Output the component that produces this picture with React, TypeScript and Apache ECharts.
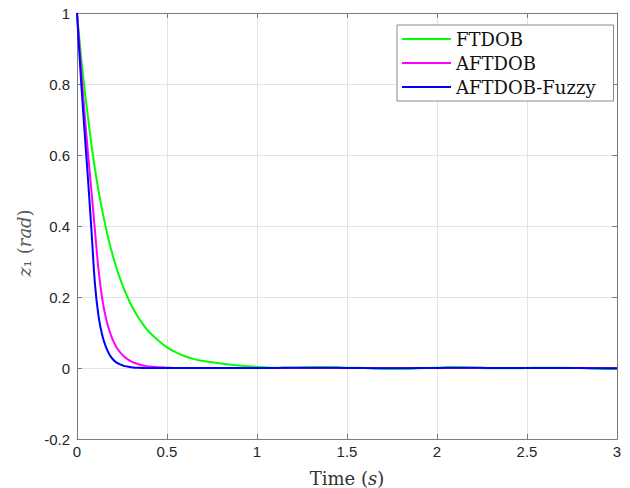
import React, { useEffect, useRef } from "react";
import * as echarts from "echarts";

const seriesNames = ["FTDOB", "AFTDOB", "AFTDOB-Fuzzy"];
const seriesColors = ["#00ff00", "#ff00ff", "#0000ff"];

const timeS = [
  0, 0.02, 0.04, 0.06, 0.08, 0.1, 0.12, 0.14, 0.16, 0.18, 0.2, 0.22, 0.24, 0.26,
  0.28, 0.3, 0.32, 0.34, 0.36, 0.38, 0.4, 0.45, 0.5, 0.55, 0.6, 0.65, 0.7, 0.8,
  0.9, 1.0, 1.1, 1.2, 1.3, 1.4, 1.5, 1.6, 1.7, 1.8, 1.9, 2.0, 2.1, 2.2, 2.3, 2.4,
  2.5, 2.6, 2.7, 2.8, 2.9, 3.0,
];

const ftdob = [
  1, 0.89, 0.795, 0.71, 0.63, 0.56, 0.498, 0.444, 0.396, 0.353, 0.315, 0.281,
  0.251, 0.224, 0.2, 0.179, 0.16, 0.143, 0.128, 0.114, 0.102, 0.078, 0.058,
  0.044, 0.033, 0.025, 0.02, 0.013, 0.007, 0.003, 0.001, 0.001, 0.002, 0.002,
  0.001, 0, -0.002, -0.002, -0.001, 0.001, 0.002, 0.001, -0.001, -0.001, 0,
  0.001, 0.001, 0, -0.002, -0.003,
];

const aftdob = [
  1, 0.86, 0.73, 0.61, 0.5, 0.385, 0.275, 0.195, 0.142, 0.105, 0.078, 0.058,
  0.044, 0.033, 0.025, 0.019, 0.014, 0.011, 0.008, 0.006, 0.004, 0.002, 0.001, 0,
  0, 0, 0, 0, 0, 0, 0, 0, 0, 0, 0, 0, 0, 0, 0, 0, 0, 0, 0, 0, 0, 0, 0, 0, 0,
  -0.001,
];

const aftdobFuzzy = [
  1, 0.83, 0.68, 0.54, 0.39, 0.235, 0.145, 0.093, 0.06, 0.038, 0.024, 0.015,
  0.01, 0.006, 0.004, 0.002, 0.001, 0.001, 0, 0, 0, 0, 0, 0, 0, 0, 0, 0, 0, 0,
  0, 0.001, 0.001, 0.001, 0, 0, -0.001, -0.001, 0, 0, 0.001, 0.001, 0, 0, 0, 0,
  0, 0, -0.001, -0.001,
];

const seriesValues = [ftdob, aftdob, aftdobFuzzy];

const axisColor = "#7a7a7a";
const gridColor = "#e4e4e4";
const labelColor = "#262626";

export default function App() {
  const ref = useRef<HTMLDivElement>(null);

  useEffect(() => {
    if (!ref.current) return;
    const chart = echarts.init(ref.current, undefined, { renderer: "svg" });

    const baseX = {
      type: "value" as const,
      min: 0,
      max: 3,
      interval: 0.5,
    };
    const baseY = {
      type: "value" as const,
      min: -0.2,
      max: 1,
      interval: 0.2,
    };

    chart.setOption({
      animation: false,
      backgroundColor: "#ffffff",
      grid: {
        left: 77,
        right: 13,
        top: 13,
        bottom: 49,
        containLabel: false,
        outerBoundsMode: "none",
      },
      legend: {
        data: seriesNames,
        orient: "vertical",
        left: 397,
        top: 25,
        icon: "rect",
        itemWidth: 49,
        itemHeight: 2,
        itemGap: 4,
        itemTextGap: 5,
        padding: [4, 18, 4, 5],
        borderColor: "#8a8a8a",
        borderWidth: 1,
        backgroundColor: "#ffffff",
        textStyle: {
          fontFamily: "DejaVu Serif",
          fontSize: 18,
          lineHeight: 20,
          color: "#111111",
        },
      },
      xAxis: [
        {
          ...baseX,
          position: "bottom",
          name: "{a|Time (}{b|s}{a|)}",
          nameLocation: "middle",
          nameGap: 30,
          nameTextStyle: {
            rich: {
              a: { fontFamily: "DejaVu Serif", fontSize: 18, color: "#333333" },
              b: {
                fontFamily: "DejaVu Serif",
                fontStyle: "italic",
                fontSize: 18,
                color: "#333333",
              },
            },
          },
          axisLine: { show: true, onZero: false, lineStyle: { color: axisColor, width: 1 } },
          axisTick: { show: true, inside: true, length: 5, lineStyle: { color: axisColor } },
          axisLabel: {
            color: labelColor,
            fontFamily: "Liberation Sans",
            fontSize: 15,
            margin: 5,
          },
          splitLine: { show: true, lineStyle: { color: gridColor, width: 1 } },
        },
        {
          ...baseX,
          position: "top",
          axisLine: { show: true, onZero: false, lineStyle: { color: axisColor, width: 1 } },
          axisTick: { show: true, inside: true, length: 5, lineStyle: { color: axisColor } },
          axisLabel: { show: false },
          splitLine: { show: false },
        },
      ],
      yAxis: [
        {
          ...baseY,
          position: "left",
          name: "{i|z}{a|₁ (}{i|rad}{a|)}",
          nameLocation: "middle",
          nameGap: 44,
          nameRotate: 90,
          nameTextStyle: {
            padding: [0, 34, 0, 0],
            rich: {
              a: { fontFamily: "DejaVu Serif", fontSize: 18, color: "#5a5a5a" },
              i: {
                fontFamily: "DejaVu Serif",
                fontStyle: "italic",
                fontSize: 18,
                color: "#5a5a5a",
              },
            },
          },
          axisLine: { show: true, onZero: false, lineStyle: { color: axisColor, width: 1 } },
          axisTick: { show: true, inside: true, length: 5, lineStyle: { color: axisColor } },
          axisLabel: {
            color: labelColor,
            fontFamily: "Liberation Sans",
            fontSize: 15,
            margin: 7,
          },
          splitLine: { show: true, lineStyle: { color: gridColor, width: 1 } },
        },
        {
          ...baseY,
          position: "right",
          axisLine: { show: true, onZero: false, lineStyle: { color: axisColor, width: 1 } },
          axisTick: { show: true, inside: true, length: 5, lineStyle: { color: axisColor } },
          axisLabel: { show: false },
          splitLine: { show: false },
        },
      ],
      series: seriesNames.map((name, k) => ({
        name,
        type: "line",
        xAxisIndex: 0,
        yAxisIndex: 0,
        data: timeS.map((t, i) => [t, seriesValues[k][i]]),
        showSymbol: false,
        symbol: "none",
        smooth: 0.3,
        lineStyle: { color: seriesColors[k], width: 2 },
        itemStyle: { color: seriesColors[k] },
        z: 2 + k,
      })),
    });

    return () => chart.dispose();
  }, []);

  return (
    <div
      ref={ref}
      style={{ position: "absolute", left: 0, top: 0, width: 630, height: 488 }}
    />
  );
}
